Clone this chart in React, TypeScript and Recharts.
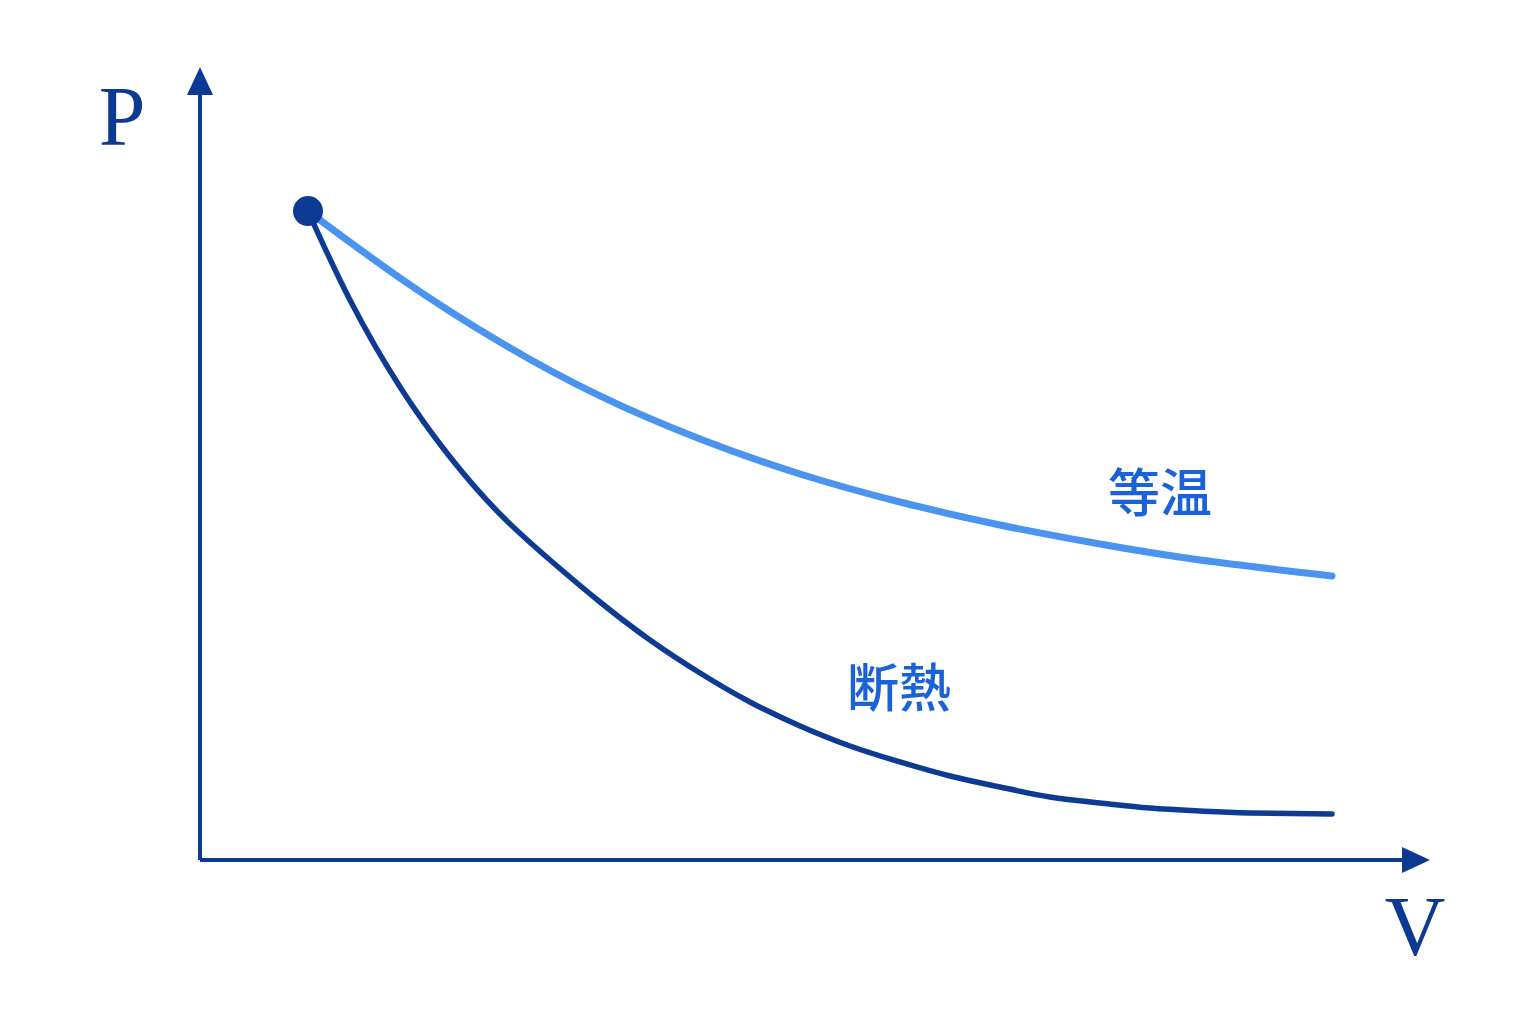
import React from 'react';
import { LineChart, Line, XAxis, YAxis, ReferenceDot } from 'recharts';

// P-V diagram: isothermal vs adiabatic expansion from the same state
const isoV = [1.057, 1.958, 2.936, 3.915, 4.894, 5.873, 6.851, 7.83, 8.809, 9.788, 11.08];
const isoP = [6.58, 5.901, 5.252, 4.705, 4.269, 3.914, 3.63, 3.397, 3.204, 3.042, 2.88];

const adiV = [1.057, 1.468, 1.958, 2.447, 2.936, 3.426, 3.915, 4.404, 4.894, 5.383, 5.873, 6.362, 6.851, 7.341, 7.83, 8.32, 8.809, 9.298, 9.788, 10.277, 11.08];
const adiP = [6.58, 5.678, 4.796, 4.086, 3.508, 3.042, 2.616, 2.231, 1.896, 1.602, 1.359, 1.156, 0.994, 0.852, 0.74, 0.639, 0.578, 0.527, 0.497, 0.477, 0.466];

const V_DOMAIN = [0, 12];
const P_DOMAIN = [0, 8];

const isoData = isoV.map((v, i) => ({ v, p: isoP[i] }));
const adiData = adiV.map((v, i) => ({ v, p: adiP[i] }));

const AXIS = '#0c3a92';
const ISO = '#4a94f0';
const ADI = '#0d3a93';
const LABEL = '#1a62d8';

const cjk = '"Noto Sans CJK JP", "Noto Sans CJK SC", sans-serif';
const serif = '"Liberation Serif", "DejaVu Serif", serif';

export default function App() {
  return (
    <div style={{ position: 'absolute', left: 0, top: 0, width: 1536, height: 1024, background: '#fff' }}>
      <LineChart
        width={1536}
        height={1024}
        margin={{ top: 71, right: 110, bottom: 134, left: 140 }}
      >
        <defs>
          <marker
            id="arrow"
            markerUnits="userSpaceOnUse"
            markerWidth={28}
            markerHeight={28}
            viewBox="0 0 28 28"
            refX={24}
            refY={14}
            orient="auto-start-reverse"
          >
            <path d="M0,1 L28,14 L0,27 Z" fill={AXIS} />
          </marker>
        </defs>
        <XAxis
          type="number"
          dataKey="v"
          domain={V_DOMAIN}
          height={30}
          tick={false}
          tickLine={false}
          axisLine={{ stroke: AXIS, strokeWidth: 4, markerEnd: 'url(#arrow)' }}
        />
        <YAxis
          type="number"
          dataKey="p"
          domain={P_DOMAIN}
          width={60}
          tick={false}
          tickLine={false}
          axisLine={{ stroke: AXIS, strokeWidth: 4, markerStart: 'url(#arrow)' }}
        />
        <Line
          data={isoData}
          dataKey="p"
          type="natural"
          stroke={ISO}
          strokeWidth={7}
          strokeLinecap="round"
          dot={false}
          activeDot={false}
          isAnimationActive={false}
        />
        <Line
          data={adiData}
          dataKey="p"
          type="natural"
          stroke={ADI}
          strokeWidth={5.5}
          strokeLinecap="round"
          dot={false}
          activeDot={false}
          isAnimationActive={false}
        />
        <ReferenceDot x={isoV[0]} y={isoP[0]} r={15} fill={AXIS} stroke="none" />
        <text x={1160} y={512} textAnchor="middle" fontFamily={cjk} fontWeight={500} fontSize={52} fill={LABEL}>
          等温
        </text>
        <text x={899} y={707} textAnchor="middle" fontFamily={cjk} fontWeight={500} fontSize={52} fill={LABEL}>
          断熱
        </text>
        <text x={122} y={145} textAnchor="middle" fontFamily={serif} fontSize={84} fill={AXIS}>
          P
        </text>
        <text x={1415} y={955} textAnchor="middle" fontFamily={serif} fontSize={84} fill={AXIS}>
          V
        </text>
      </LineChart>
    </div>
  );
}
